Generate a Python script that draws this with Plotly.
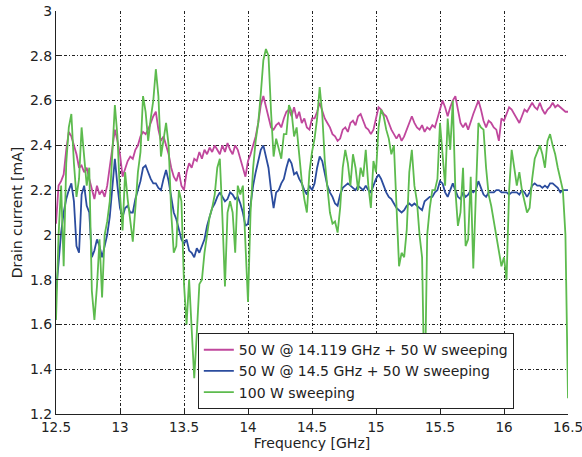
import numpy as np
import plotly.graph_objects as go

freq = np.round(np.arange(12.5, 16.5001, 0.02), 2)

magenta = [
    2.05, 2.22, 2.24, 2.27, 2.38, 2.46, 2.44, 2.40, 2.36, 2.30, 2.31, 2.28, 2.30, 2.25, 2.20, 2.16, 2.22, 2.18, 2.20, 2.17,
    2.22, 2.30, 2.40, 2.47, 2.42, 2.36, 2.26, 2.30, 2.33, 2.35, 2.34, 2.38, 2.40, 2.44, 2.46, 2.45, 2.47, 2.50, 2.53, 2.55,
    2.47, 2.42, 2.44, 2.40, 2.36, 2.30, 2.26, 2.24, 2.28, 2.22, 2.20,
    2.28, 2.32, 2.30, 2.34, 2.33, 2.37, 2.34, 2.38, 2.36, 2.39, 2.37, 2.40, 2.38, 2.36, 2.40, 2.37, 2.41, 2.38, 2.36, 2.40,
    2.38, 2.34, 2.30, 2.26, 2.33, 2.36, 2.40, 2.44, 2.50, 2.58, 2.62, 2.57, 2.52, 2.48, 2.47, 2.49, 2.50, 2.48, 2.52, 2.55,
    2.56, 2.53, 2.57, 2.52, 2.55, 2.50, 2.52, 2.48, 2.47, 2.52,
    2.52, 2.55, 2.59, 2.55, 2.52, 2.50, 2.48, 2.45, 2.44, 2.42, 2.43, 2.47, 2.48, 2.46, 2.50, 2.51, 2.49, 2.53, 2.54, 2.51,
    2.48, 2.47, 2.45, 2.47, 2.52, 2.57, 2.56, 2.54, 2.53, 2.50, 2.47, 2.45, 2.43, 2.45, 2.42, 2.44, 2.47, 2.50, 2.53, 2.50,
    2.48, 2.47, 2.49, 2.46, 2.48, 2.47, 2.49, 2.48, 2.52, 2.56,
    2.60, 2.57, 2.53, 2.57, 2.60, 2.62, 2.56, 2.50, 2.48, 2.50, 2.47, 2.51, 2.54, 2.57, 2.60, 2.56, 2.51, 2.48, 2.51, 2.50,
    2.48, 2.47, 2.42, 2.52, 2.51, 2.54, 2.57, 2.56, 2.54, 2.52, 2.50, 2.53, 2.56, 2.55, 2.57, 2.59, 2.57, 2.56, 2.59, 2.56,
    2.54, 2.56, 2.57, 2.59, 2.57, 2.58, 2.57, 2.56, 2.55, 2.55,
]

blue = [
    1.74, 1.87, 2.01, 2.10, 2.16, 2.20, 2.23, 2.15, 1.95, 1.92, 2.18, 2.22, 2.13, 2.10, 1.90, 1.93, 1.98, 1.95, 1.90, 1.95,
    2.00, 2.08, 2.22, 2.34, 2.22, 2.12, 2.08, 2.12, 2.13, 2.10, 2.10, 2.16, 2.20, 2.24, 2.30, 2.31, 2.28, 2.25, 2.23, 2.23,
    2.21, 2.20, 2.25, 2.29, 2.24, 2.17, 2.10, 2.07, 2.03, 1.98, 1.96,
    1.98, 1.93, 1.92, 1.90, 1.94, 1.92, 1.95, 1.98, 2.04, 2.08, 2.12, 2.14, 2.17, 2.19, 2.17, 2.15, 2.16, 2.19, 2.18, 2.16,
    2.17, 2.14, 2.10, 2.04, 2.05, 2.14, 2.22, 2.28, 2.33, 2.38, 2.40, 2.35, 2.30, 2.20, 2.12, 2.19, 2.20, 2.23, 2.25, 2.30,
    2.34, 2.32, 2.27, 2.28, 2.25, 2.23, 2.20, 2.18, 2.22, 2.20,
    2.23, 2.30, 2.35, 2.33, 2.27, 2.22, 2.19, 2.17, 2.14, 2.13, 2.18, 2.21, 2.22, 2.23, 2.22, 2.21, 2.20, 2.22, 2.21, 2.20,
    2.22, 2.20, 2.19, 2.22, 2.25, 2.27, 2.25, 2.22, 2.19, 2.17, 2.16, 2.14, 2.12, 2.11, 2.10, 2.11, 2.13, 2.14, 2.13, 2.14,
    2.13, 2.12, 2.11, 2.15, 2.16, 2.17, 2.17, 2.19, 2.20, 2.24,
    2.23, 2.19, 2.17, 2.20, 2.23, 2.20, 2.17, 2.16, 2.19, 2.17, 2.18, 2.20, 2.19, 2.20, 2.24, 2.21, 2.18, 2.17, 2.19, 2.19,
    2.19, 2.20, 2.20, 2.19, 2.19, 2.19, 2.18, 2.19, 2.19, 2.19, 2.18, 2.20, 2.19, 2.17, 2.19, 2.22, 2.23, 2.22, 2.22, 2.21,
    2.22, 2.21, 2.23, 2.23, 2.22, 2.21, 2.19, 2.20, 2.20, 2.20,
]

green = [
    1.62, 2.00, 2.22, 1.86, 2.32, 2.48, 2.54, 2.32, 2.17, 2.25, 2.48, 2.33, 2.22, 2.30, 1.75, 1.62, 1.77, 1.98, 1.72, 2.00,
    2.06, 2.15, 2.38, 2.58, 2.44, 2.18, 2.02, 2.28, 2.16, 2.07, 1.97, 2.12, 2.28, 2.37, 2.62, 2.55, 2.42, 2.52, 2.60, 2.74,
    2.62, 2.35, 2.42, 2.50, 2.40, 2.10, 1.92, 1.95, 2.20, 2.15, 1.78,
    1.60, 1.80, 1.60, 1.36, 1.56, 1.78, 1.80, 1.92, 2.00, 2.08, 2.12, 2.18, 2.30, 2.34, 2.08, 1.77, 2.10, 2.15, 2.10, 1.92,
    2.22, 2.18, 2.22, 1.92, 1.70, 2.10, 2.30, 2.42, 2.50, 2.63, 2.78, 2.83, 2.80, 2.55, 2.35, 2.43, 2.38, 2.34, 2.45, 2.45,
    2.58, 2.55, 2.44, 2.48, 2.36, 2.24, 2.16, 2.10, 2.28, 2.37,
    2.43, 2.52, 2.66, 2.54, 2.33, 2.20, 2.10, 2.05, 2.06, 2.01, 2.12, 2.30, 2.38, 2.32, 2.22, 2.36, 2.30, 2.20, 2.30, 2.26,
    2.38, 2.22, 2.12, 2.33, 2.28, 2.48, 2.56, 2.53, 2.47, 2.43, 2.36, 2.40, 2.10, 1.86, 1.92, 1.90, 2.02, 2.28, 2.38, 2.22,
    2.15, 2.00, 1.90, 1.25, 2.00, 2.12, 2.20, 2.20, 2.25, 2.50,
    2.36, 2.22, 2.52, 2.38, 2.60, 2.20, 2.04, 2.10, 2.30, 1.95, 1.98, 2.26, 1.85, 2.20, 2.50, 2.48, 2.47, 2.30, 2.18, 2.13,
    2.06, 1.98, 1.93, 1.86, 1.90, 1.80, 2.20, 2.38, 2.30, 2.22, 2.28, 2.20, 2.15, 2.10, 2.12, 2.25, 2.34, 2.37, 2.40, 2.36,
    2.30, 2.42, 2.45, 2.40, 2.36, 2.30, 2.25, 2.20, 2.00, 1.27,
]

x_ticks = [12.5, 13, 13.5, 14, 14.5, 15, 15.5, 16, 16.5]
x_ticklabels = ["12.5", "13", "13.5", "14", "14.5", "15", "15.5", "16", "16.5"]
y_ticks = [1.2, 1.4, 1.6, 1.8, 2, 2.2, 2.4, 2.6, 2.8, 3]
y_ticklabels = ["1.2", "1.4", "1.6", "1.8", "2", "2.2", "2.4", "2.6", "2.8", "3"]

series = [
    ("50 W @ 14.119 GHz + 50 W sweeping", magenta, "#c0479d"),
    ("50 W @ 14.5 GHz + 50 W sweeping", blue, "#2b4c9e"),
    ("100 W sweeping", green, "#5dbb4e"),
]

fig = go.Figure()
for name, vals, col in series:
    fig.add_trace(go.Scatter(x=freq, y=vals, mode="lines", name=name,
                             line=dict(color=col, width=1.8)))

font = "DejaVu Sans, sans-serif"
axcommon = dict(
    showline=True, linecolor="#222", linewidth=1,
    showgrid=True, gridcolor="#222", gridwidth=1, griddash="3px,2px,1px,2px",
    ticks="inside", ticklen=5, tickcolor="#222",
    zeroline=False, automargin=False,
)
fig.update_layout(
    width=582, height=457,
    margin=dict(l=56, r=14, t=11, b=43),
    paper_bgcolor="white", plot_bgcolor="white",
    font=dict(family=font, size=14, color="#222"),
    xaxis=dict(range=[12.5, 16.5], tickvals=x_ticks, ticktext=x_ticklabels,
               ticklabelstandoff=1, ticklabeloverflow="allow",
               tickfont=dict(size=13.5, color="#222", family=font),
               title=dict(text="Frequency [GHz]", standoff=0, font=dict(size=14)), **axcommon),
    yaxis=dict(range=[1.2, 3], tickvals=y_ticks, ticktext=y_ticklabels,
               tickfont=dict(size=14, color="#222", family=font),
               title=dict(text="Drain current [mA]", standoff=4, font=dict(size=14)), **axcommon),
    legend=dict(x=0.277, y=0.012, xanchor="left", yanchor="bottom",
                bgcolor="white", bordercolor="#222", borderwidth=1,
                font=dict(size=14, color="#222"), tracegroupgap=0),
    showlegend=True,
)
fig.write_html("out.html", config={"displayModeBar": False},
               post_script="document.body.style.margin='0';document.body.style.overflow='hidden';")
